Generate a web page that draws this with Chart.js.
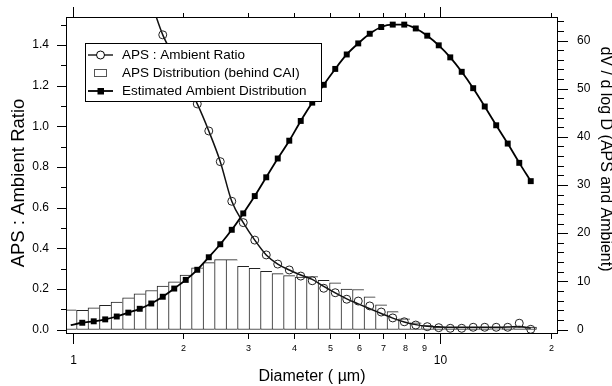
<!DOCTYPE html>
<html>
<head>
<meta charset="utf-8">
<script src="https://cdn.jsdelivr.net/npm/chart.js@4.4.1/dist/chart.umd.min.js"></script>
<style>
  html, body { margin: 0; padding: 0; background: #fff; }
  #wrap { width: 612px; height: 386px; }
</style>
</head>
<body>
<div id="wrap"><canvas id="chart" width="612" height="386"></canvas></div>
<script>
// APS channel centres (um), 32 channels per decade
const diameters = [
  0.989, 1.063, 1.142, 1.227, 1.319, 1.418, 1.523, 1.637, 1.759, 1.890,
  2.031, 2.183, 2.346, 2.521, 2.709, 2.911, 3.128, 3.361, 3.612, 3.882,
  4.171, 4.482, 4.817, 5.176, 5.562, 5.977, 6.423, 6.902, 7.417, 7.971,
  8.566, 9.205, 9.891, 10.63, 11.42, 12.27, 13.19, 14.17, 15.23, 16.37, 17.59
];

// dV/dlogD of the APS behind the CAI (right axis, bars)
const apsDist = [
  4.1, 4.0, 4.5, 5.0, 5.7, 6.6, 7.4, 8.1, 9.0, 9.9,
  11.3, 12.8, 13.9, 14.5, 14.5, 13.1, 12.7, 12.1, 11.6, 11.2,
  10.9, 11.0, 10.2, 9.7, 8.4, 8.3, 6.8, 5.1, 3.7, 2.2,
  1.4, 0.8, 0.5, 0.4, 0.3, 0.3, 0.3, 0.2, 0.3, 0.4, 0.5
];

// estimated ambient dV/dlogD (right axis, filled squares)
const ambientDist = [
  0.9, 1.4, 1.7, 2.1, 2.7, 3.5, 4.3, 5.4, 6.8, 8.5,
  10.3, 12.4, 15.0, 17.7, 20.7, 24.1, 27.7, 31.6, 35.5, 39.2,
  43.3, 47.1, 50.8, 54.1, 57.1, 59.4, 61.4, 62.8, 63.3, 63.3,
  62.5, 61.0, 59.0, 56.5, 53.5, 50.1, 46.3, 42.4, 38.6, 34.6, 30.8
];

// APS : ambient ratio (left axis, open circles)
const ratioPoints = [
  null, null, null, null, null, null, null, 1.61, 1.45, 1.34,
  1.22, 1.11, 0.977, 0.826, 0.631, 0.526, 0.440, 0.367, 0.322, 0.293,
  0.263, 0.240, 0.203, 0.181, 0.149, 0.140, 0.116, 0.086, 0.057, 0.038,
  0.022, 0.014, 0.009, 0.006, 0.006, 0.011, 0.011, 0.011, 0.011, 0.031, 0.001
];

// smooth curve drawn through the ratio points
const ratioCurve = [
  null, null, null, null, null, null, null, 1.61, 1.45, 1.34,
  1.22, 1.11, 0.977, 0.826, 0.631, 0.526, 0.440, 0.367, 0.322, 0.293,
  0.268, 0.247, 0.212, 0.180, 0.151, 0.126, 0.102, 0.079, 0.056, 0.037,
  0.024, 0.016, 0.013, 0.011, 0.011, 0.011, 0.011, 0.011, 0.012, 0.015, 0.006
];

const xTicks = [1, 2, 3, 4, 5, 6, 7, 8, 9, 10, 20];
const xTickLabels = ["1", "2", "3", "4", "5", "6", "7", "8", "9", "10", "2"];
const leftTicks = [0, 0.2, 0.4, 0.6, 0.8, 1.0, 1.2, 1.4];
const rightTicks = [0, 10, 20, 30, 40, 50, 60];

const FONT = "'Liberation Sans', Arial, Helvetica, sans-serif";
Chart.defaults.font.family = FONT;

const toPoints = vals => diameters
  .map((d, i) => ({ x: d, y: vals[i] }))
  .filter(p => p.y !== null);

function line(ctx, x1, y1, x2, y2) {
  ctx.beginPath();
  ctx.moveTo(x1, y1);
  ctx.lineTo(x2, y2);
  ctx.stroke();
}

const decorations = {
  id: "decorations",
  afterDraw(chart) {
    const { ctx, chartArea: a, scales } = chart;
    const snap = v => Math.round(v) + 0.5;
    ctx.save();
    ctx.strokeStyle = "#000";
    ctx.fillStyle = "#000";
    ctx.lineWidth = 1;

    // frame
    ctx.strokeRect(a.left + 0.5, a.top + 0.5, a.right - a.left - 1, a.bottom - a.top - 1);

    // x axis (log), ticks top and bottom
    xTicks.forEach((v, i) => {
      const x = snap(scales.x.getPixelForValue(v));
      const major = v === 1 || v === 10;
      line(ctx, x, a.bottom, x, a.bottom + (major ? 10 : 5));
      line(ctx, x, a.top, x, a.top - (major ? 10 : 4));
      ctx.font = (major ? "12px " : "9px ") + FONT;
      ctx.textAlign = "center";
      ctx.textBaseline = "middle";
      ctx.fillText(xTickLabels[i], x, a.bottom + (major ? 26.5 : 14.5));
    });

    // left axis
    for (let i = 0; i <= 15; i++) {
      const y = snap(scales.y.getPixelForValue(i / 10));
      const major = i % 2 === 0;
      line(ctx, a.left, y, a.left - (major ? 9 : 5), y);
    }
    ctx.font = "12px " + FONT;
    ctx.textAlign = "right";
    ctx.textBaseline = "middle";
    leftTicks.forEach(v => {
      ctx.fillText(v.toFixed(1), a.left - 17, scales.y.getPixelForValue(v));
    });

    // right axis
    for (let v = 0; v <= 64; v += 2) {
      const y = snap(scales.yR.getPixelForValue(v));
      const major = v % 10 === 0;
      line(ctx, a.right, y, a.right + (major ? 10 : 6), y);
    }
    ctx.textAlign = "left";
    rightTicks.forEach(v => {
      ctx.fillText(String(v), a.right + 19, scales.yR.getPixelForValue(v));
    });

    // axis titles
    ctx.font = "16px " + FONT;
    ctx.textAlign = "center";
    ctx.textBaseline = "middle";
    ctx.fillText("Diameter ( \u00b5m)", 312, 377);

    ctx.save();
    ctx.font = "18.5px " + FONT;
    ctx.translate(19, 183);
    ctx.rotate(-Math.PI / 2);
    ctx.fillText("APS : Ambient Ratio", 0, 0);
    ctx.restore();

    ctx.save();
    ctx.translate(605, 159);
    ctx.rotate(Math.PI / 2);
    ctx.fillText("dV / d log D (APS and Ambient)", 0, 0);
    ctx.restore();

    // legend box
    const lx = 85.5, ly = 43.5, lw = 236, lh = 58;
    ctx.fillStyle = "#fff";
    ctx.fillRect(lx, ly, lw, lh);
    ctx.strokeStyle = "#000";
    ctx.strokeRect(lx, ly, lw, lh);

    const rows = [55, 73, 91];
    ctx.fillStyle = "#000";
    // ratio symbol
    ctx.lineWidth = 1.3;
    line(ctx, 88, rows[0], 113, rows[0]);
    ctx.beginPath();
    ctx.arc(100.5, rows[0], 4, 0, Math.PI * 2);
    ctx.fillStyle = "#fff";
    ctx.fill();
    ctx.lineWidth = 1;
    ctx.stroke();
    // bar symbol
    ctx.strokeStyle = "#555";
    ctx.strokeRect(94.5, rows[1] - 3.5, 12, 7);
    // ambient symbol
    ctx.strokeStyle = "#000";
    ctx.fillStyle = "#000";
    ctx.lineWidth = 1.8;
    line(ctx, 88, rows[2], 113, rows[2]);
    ctx.fillRect(97.5, rows[2] - 3, 6.5, 6.5);

    ctx.font = "13.5px " + FONT;
    ctx.textAlign = "left";
    ctx.textBaseline = "middle";
    ctx.fillText("APS : Ambient Ratio", 122, rows[0]);
    ctx.fillText("APS Distribution (behind CAI)", 122, rows[1]);
    ctx.fillText("Estimated Ambient Distribution", 122, rows[2]);
    ctx.restore();
  }
};

new Chart(document.getElementById("chart"), {
  type: "bar",
  data: {
    datasets: [
      {
        type: "line",
        label: "APS : Ambient Ratio",
        data: toPoints(ratioPoints),
        yAxisID: "y",
        showLine: false,
        pointStyle: "circle",
        pointRadius: 4,
        pointBorderWidth: 1,
        pointBorderColor: "#222",
        pointBackgroundColor: "rgba(0,0,0,0)",
        order: 1
      },
      {
        type: "line",
        label: "ratio curve",
        data: toPoints(ratioCurve),
        yAxisID: "y",
        borderColor: "#111",
        borderWidth: 1.5,
        pointRadius: 0,
        cubicInterpolationMode: "monotone",
        order: 2
      },
      {
        type: "line",
        label: "Estimated Ambient Distribution",
        data: toPoints(ambientDist),
        yAxisID: "yR",
        borderColor: "#000",
        borderWidth: 1.8,
        pointStyle: "rect",
        pointRadius: ctx => (ctx.dataIndex === 0 ? 0 : 4.2),
        pointBorderWidth: 0,
        pointBackgroundColor: "#000",
        cubicInterpolationMode: "monotone",
        order: 3
      },
      {
        label: "APS Distribution (behind CAI)",
        data: toPoints(apsDist),
        yAxisID: "yR",
        backgroundColor: "#fff",
        borderColor: "#222",
        borderWidth: ctx => ({
          top: 1, left: 1, bottom: 1,
          right: ctx.dataIndex === apsDist.length - 1 ? 1 : 0
        }),
        borderSkipped: false,
        barPercentage: 1,
        categoryPercentage: 1,
        order: 4
      }
    ]
  },
  options: {
    responsive: false,
    animation: false,
    devicePixelRatio: 1,
    layout: { padding: { left: 66, top: 17, right: 54, bottom: 52 } },
    plugins: { legend: { display: false }, tooltip: { enabled: false } },
    scales: {
      x: {
        type: "logarithmic",
        min: 0.96014,
        max: 20.86,
        display: false,
        afterBuildTicks: s => { s.ticks = xTicks.map(v => ({ value: v })); }
      },
      y: { type: "linear", position: "left", min: -0.0221, max: 1.5378, display: false },
      yR: { type: "linear", position: "right", min: -0.934, max: 64.88, display: false }
    }
  },
  plugins: [decorations]
});
</script>
</body>
</html>
